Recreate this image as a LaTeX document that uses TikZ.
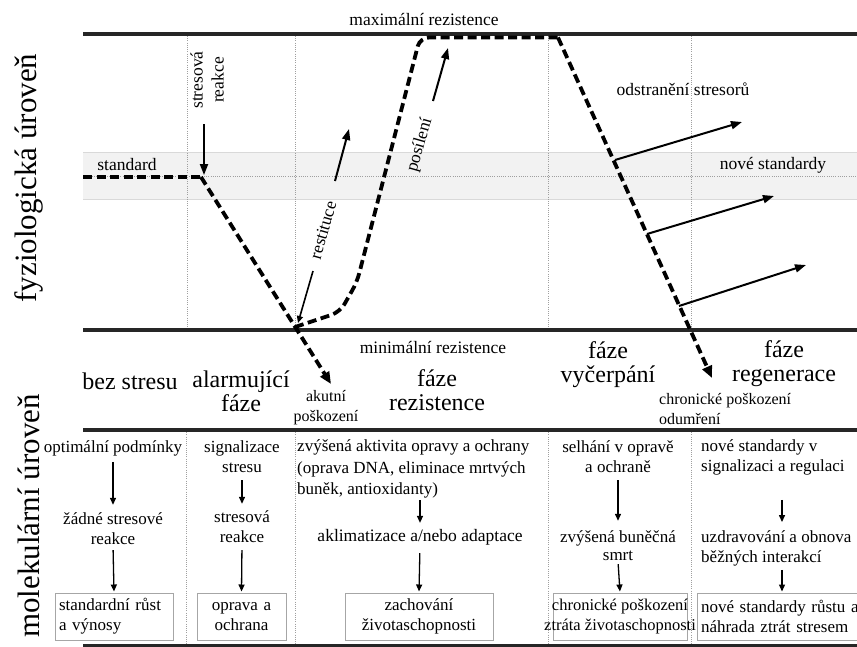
\documentclass[tikz,border=0pt]{standalone}
\usepackage{fontspec}
\setmainfont{Liberation Serif}
\usetikzlibrary{arrows.meta}
\begin{document}
\begin{tikzpicture}[x=1pt,y=-1pt,
  thickrule/.style={line width=3.4pt, black!85},
  vdot/.style={gray!75, line width=1pt, dash pattern=on 1pt off 1.2pt},
  curve/.style={line width=3.8pt, dash pattern=on 9pt off 4.5pt},
  upar/.style={line width=2pt, -{Triangle[length=11pt,width=8pt]}},
  dnar/.style={line width=1.3pt, -{Triangle[length=7pt,width=6pt]}},
  small/.style={font=\fontsize{17.5}{20}\selectfont, inner sep=0pt},
  tiny/.style={font=\fontsize{16}{20}\selectfont, inner sep=0pt, align=center},
  big/.style={font=\fontsize{24}{24}\selectfont, align=center, inner sep=0pt},
  huge/.style={font=\fontsize{31}{31}\selectfont, inner sep=0pt},
  mol/.style={font=\fontsize{17}{20}\selectfont, inner sep=0pt},
  mbox/.style={draw=gray!70, line width=1pt, minimum height=47pt, inner sep=4pt, font=\fontsize{17}{20}\selectfont},
]
\useasboundingbox (0,0) rectangle (857,646);
% standard band
\fill[gray!10] (83,152) rectangle (857,199);
\draw[gray!30, line width=0.6pt] (83,152) -- (857,152) (83,199) -- (857,199);
\draw[vdot] (83,176) -- (857,176);
% dotted verticals
\foreach \x in {187,295,548,691} {
  \draw[vdot] (\x,36) -- (\x,330);
}
\foreach \x in {186,295,548,691} {
  \draw[vdot] (\x,430) -- (\x,646);
}
% thick rules
\draw[thickrule] (83,34) -- (857,34);
\draw[thickrule] (83,330) -- (857,330);
\draw[thickrule] (83,430) -- (857,430);
\draw[thickrule] (83,646) -- (857,646);

% the resistance curve
\coordinate (s0) at (83,177);
\coordinate (s1) at (201,177);
\coordinate (ak) at (331,384);
\coordinate (m0) at (295,327);
\coordinate (m1) at (340,312);
\coordinate (m2) at (357,282);
\coordinate (t0) at (420,37.5);
\coordinate (t1) at (558,37.5);
\coordinate (ch) at (712,378);
\draw[curve] (s0) -- (s1);
\draw[curve, -{Triangle[length=12pt,width=10pt]}] (s1) -- (ak);
\draw[curve, rounded corners=9pt] (m0) -- (m1) -- (m2) -- (t0) -- (t1);
\draw[curve, -{Triangle[length=12pt,width=10pt]}] (t1) -- (ch);

% upper labels
\node[small] (maxr) at (424,19) {maximální rezistence};
\node[small] (minr) at (433,347) {minimální rezistence};
\node[small] (std) at (127,165) {standard};
\node[small] (nstd) at (773,165) {nové standardy};
\node[small] (odst) at (683,89) {odstranění stresorů};
\node[small, align=center, font=\fontsize{17.5}{21}\selectfont, rotate=90] (strr) at (207,80) {stresová\\reakce};
\node[small, rotate=74] (rest) at (323,230) {restituce};
\node[small, rotate=74] (pos) at (420,145) {posílení};

% upper arrows
\coordinate (sra1) at (204,124);
\coordinate (sra2) at (204,175);
\draw[upar] (sra1) -- (sra2);
\coordinate (re1) at (313,271);
\coordinate (re2) at (298,323);
\draw[line width=1.6pt, -{Triangle[length=7pt,width=6pt]}] (re1) -- (re2);
\coordinate (re3) at (335,181);
\coordinate (re4) at (349,129);
\draw[upar] (re3) -- (re4);
\coordinate (po1) at (433,101);
\coordinate (po2) at (448,48);
\draw[upar] (po1) -- (po2);
\coordinate (o1a) at (615,160);
\coordinate (o1b) at (742,122);
\coordinate (o2a) at (647,234);
\coordinate (o2b) at (774,196);
\coordinate (o3a) at (679,306);
\coordinate (o3b) at (806,265);
\draw[upar] (o1a) -- (o1b);
\draw[upar] (o2a) -- (o2b);
\draw[upar] (o3a) -- (o3b);

% side titles
\node[huge, rotate=90] (fyz) at (29,178) {fyziologická úroveň};
\node[huge, rotate=90] (molu) at (29,516) {molekulární úroveň};

% phase labels
\node[big] (bez) at (130,381) {bez stresu};
\node[big] (alarm) at (241,391) {alarmující\\fáze};
\node[tiny] (akut) at (326,408) {akutní\\poškození};
\node[big] (frez) at (437,390) {fáze\\rezistence};
\node[big] (fvyc) at (608,365) {fáze\\vyčerpání};
\node[big] (freg) at (784,364) {fáze\\regenerace};
\node[tiny, align=left, anchor=west] (chron) at (659,409) {chronické poškození\\odumření};

% molecular level, column 1
\node[mol] (c1a) at (113,448) {optimální podmínky};
\node[mol, align=center] (c1b) at (113,529) {žádné stresové\\reakce};
\node[mbox, text width=110pt, align=left] (c1c) at (114,616.5) {standardní růst\\a výnosy};
\draw[dnar, shorten <=6pt, shorten >=8pt] (c1a.south) -- (c1b.north);
\draw[dnar, shorten <=5pt, shorten >=1pt] (c1b.south) -- (c1c.north);

% column 2
\node[mol, align=center] (c2a) at (242,457) {signalizace\\stresu};
\node[mol, align=center] (c2b) at (242,527) {stresová\\reakce};
\node[mbox, text width=81pt, align=center] (c2c) at (241.5,616.5) {oprava a\\ochrana};
\draw[dnar, shorten <=7pt, shorten >=7pt] (c2a.south) -- (c2b.north);
\draw[dnar, shorten <=7pt, shorten >=1pt] (c2b.south) -- (c2c.north);

% column 3
\node[mol, align=left, anchor=west, font=\fontsize{17}{21.5}\selectfont] (c3a) at (297,469) {zvýšená aktivita opravy a ochrany\\(oprava DNA, eliminace mrtvých\\buněk, antioxidanty)};
\node[mol, font=\fontsize{17.5}{20}\selectfont] (c3b) at (420,537) {aklimatizace a/nebo adaptace};
\node[mbox, text width=140pt, align=center] (c3c) at (419,616.5) {zachování\\životaschopnosti};
\draw[dnar, shorten <=2pt, shorten >=6pt] (c3b |- c3a.south) -- (c3b.north);
\draw[dnar, shorten <=8pt, shorten >=1pt] (c3b.south) -- (c3c.north);

% column 4
\node[mol, align=center] (c4a) at (618,457) {selhání v opravě\\a ochraně};
\node[mol, align=center, font=\fontsize{17}{18}\selectfont] (c4b) at (618,546) {zvýšená buněčná\\smrt};
\node[mbox, minimum width=134pt, align=center, font=\fontsize{16.5}{20}\selectfont] (c4c) at (620,616.5) {\makebox[126pt]{chronické poškození}\\\makebox[126pt]{ztráta životaschopnosti}};
\draw[dnar, shorten <=7pt, shorten >=10pt] (c4a.south) -- (c4b.north);
\draw[dnar, shorten <=3pt, shorten >=1pt] (c4b.south) -- (c4c.north);

% column 5
\node[mbox, text width=162pt, align=left] (c5c) at (782,616.5) {nové standardy růstu a\\náhrada ztrát stresem};
\node[mol, align=left, anchor=west] (c5a) at (701,457) {nové standardy v\\signalizaci a regulaci};
\node[mol, align=left, anchor=west] (c5b) at (701,548) {uzdravování a obnova\\běžných interakcí};
\draw[dnar, shorten <=25pt, shorten >=8pt] (c5c |- c5a.south) -- (c5c |- c5b.north);
\draw[dnar, shorten <=4pt, shorten >=1pt] (c5c |- c5b.south) -- (c5c.north);
\end{tikzpicture}
\end{document}
